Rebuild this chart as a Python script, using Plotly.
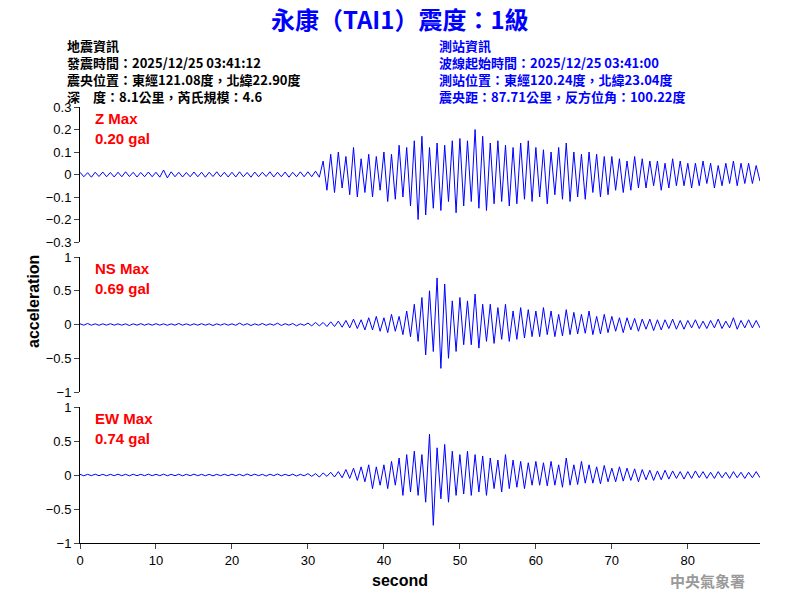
import plotly.graph_objects as go

# ── Waveform peaks, one value every 0.5 s (0 .. 89.5 s)
z_acc = [
    0.01, -0.01, 0.008, -0.012, 0.01, -0.009, 0.011, -0.01, 0.009, -0.011, 0.01, -0.01, 0.012, -0.009, 0.01, -0.011, 0.009, -0.01, 0.011, -0.01,
    0.01, -0.012, 0.02, -0.015, 0.012, -0.01, 0.01, -0.011, 0.009, -0.01, 0.011, -0.01, 0.01, -0.012, 0.01, -0.009, 0.012, -0.01, 0.01, -0.011,
    0.01, -0.011, 0.012, -0.01, 0.009, -0.012, 0.011, -0.01, 0.01, -0.009, 0.012, -0.011, 0.01, -0.01, 0.011, -0.012, 0.01, -0.01, 0.012, -0.01,
    0.012, -0.01, 0.015, -0.012, 0.06, -0.07, 0.09, -0.08, 0.1, -0.06, 0.08, -0.09, 0.12, -0.1, 0.07, -0.08, 0.09, -0.1, 0.08, -0.07,
    0.1, -0.12, 0.09, -0.11, 0.13, -0.1, 0.12, -0.14, 0.15, -0.2, 0.17, -0.18, 0.12, -0.15, 0.14, -0.16, 0.13, -0.12, 0.15, -0.17,
    0.16, -0.14, 0.15, -0.12, 0.2, -0.15, 0.17, -0.16, 0.14, -0.13, 0.15, -0.12, 0.13, -0.14, 0.12, -0.13, 0.14, -0.11, 0.15, -0.12,
    0.12, -0.1, 0.11, -0.13, 0.1, -0.09, 0.12, -0.11, 0.14, -0.12, 0.1, -0.1, 0.09, -0.11, 0.1, -0.08, 0.09, -0.1, 0.08, -0.09,
    0.08, -0.07, 0.07, -0.08, 0.06, -0.07, 0.08, -0.06, 0.07, -0.06, 0.06, -0.05, 0.06, -0.07, 0.05, -0.06, 0.07, -0.05, 0.06, -0.05,
    0.05, -0.06, 0.05, -0.05, 0.06, -0.04, 0.05, -0.06, 0.04, -0.05, 0.05, -0.04, 0.06, -0.05, 0.05, -0.04, 0.05, -0.04, 0.04, -0.03,
]
ns_acc = [
    0.01, -0.01, 0.015, -0.01, 0.01, -0.012, 0.01, -0.01, 0.012, -0.01, 0.01, -0.01, 0.01, -0.015, 0.01, -0.01, 0.012, -0.01, 0.01, -0.01,
    0.012, -0.01, 0.01, -0.012, 0.01, -0.01, 0.015, -0.01, 0.01, -0.012, 0.01, -0.01, 0.012, -0.01, 0.01, -0.015, 0.01, -0.01, 0.012, -0.01,
    0.01, -0.012, 0.02, -0.01, 0.012, -0.015, 0.01, -0.01, 0.015, -0.012, 0.01, -0.01, 0.02, -0.015, 0.012, -0.01, 0.015, -0.02, 0.01, -0.012,
    0.02, -0.02, 0.03, -0.02, 0.03, -0.03, 0.04, -0.03, 0.05, -0.04, 0.06, -0.05, 0.08, -0.06, 0.07, -0.08, 0.1, -0.08, 0.12, -0.1,
    0.1, -0.12, 0.15, -0.1, 0.12, -0.15, 0.2, -0.18, 0.3, -0.25, 0.4, -0.45, 0.5, -0.4, 0.69, -0.65, 0.6, -0.5, 0.35, -0.4,
    0.4, -0.3, 0.35, -0.3, 0.45, -0.35, 0.3, -0.25, 0.3, -0.28, 0.25, -0.22, 0.3, -0.25, 0.2, -0.22, 0.25, -0.2, 0.22, -0.18,
    0.2, -0.18, 0.25, -0.15, 0.2, -0.18, 0.15, -0.17, 0.22, -0.15, 0.18, -0.14, 0.15, -0.13, 0.2, -0.15, 0.12, -0.14, 0.15, -0.12,
    0.12, -0.1, 0.1, -0.12, 0.1, -0.08, 0.09, -0.1, 0.08, -0.07, 0.08, -0.09, 0.07, -0.08, 0.07, -0.06, 0.08, -0.07, 0.06, -0.07,
    0.06, -0.05, 0.07, -0.06, 0.05, -0.06, 0.06, -0.05, 0.08, -0.06, 0.05, -0.05, 0.1, -0.07, 0.06, -0.05, 0.07, -0.05, 0.06, -0.05,
]
ew_acc = [
    0.01, -0.012, 0.01, -0.01, 0.012, -0.01, 0.01, -0.011, 0.01, -0.01, 0.012, -0.01, 0.01, -0.012, 0.011, -0.01, 0.01, -0.01, 0.012, -0.01,
    0.01, -0.01, 0.012, -0.011, 0.01, -0.01, 0.011, -0.012, 0.01, -0.01, 0.012, -0.01, 0.01, -0.011, 0.01, -0.012, 0.01, -0.01, 0.011, -0.01,
    0.012, -0.01, 0.01, -0.012, 0.015, -0.01, 0.012, -0.01, 0.01, -0.015, 0.012, -0.01, 0.015, -0.012, 0.01, -0.01, 0.012, -0.015, 0.01, -0.012,
    0.02, -0.02, 0.02, -0.03, 0.03, -0.02, 0.04, -0.03, 0.05, -0.04, 0.08, -0.05, 0.1, -0.08, 0.12, -0.1, 0.15, -0.2, 0.12, -0.15,
    0.15, -0.2, 0.2, -0.15, 0.25, -0.3, 0.3, -0.25, 0.35, -0.3, 0.3, -0.4, 0.6, -0.74, 0.4, -0.35, 0.45, -0.4, 0.35, -0.3,
    0.3, -0.28, 0.35, -0.3, 0.3, -0.25, 0.28, -0.3, 0.25, -0.2, 0.22, -0.25, 0.3, -0.2, 0.22, -0.18, 0.2, -0.2, 0.18, -0.15,
    0.2, -0.15, 0.18, -0.16, 0.2, -0.15, 0.15, -0.18, 0.25, -0.15, 0.15, -0.14, 0.2, -0.12, 0.15, -0.12, 0.12, -0.13, 0.14, -0.1,
    0.1, -0.1, 0.12, -0.09, 0.1, -0.08, 0.09, -0.1, 0.08, -0.07, 0.07, -0.08, 0.06, -0.07, 0.07, -0.06, 0.06, -0.05, 0.05, -0.06,
    0.05, -0.05, 0.06, -0.04, 0.05, -0.05, 0.04, -0.05, 0.05, -0.04, 0.04, -0.05, 0.05, -0.04, 0.04, -0.05, 0.04, -0.04, 0.05, -0.04,
]
sample_step = 0.5
seconds = [i * sample_step for i in range(len(z_acc))]

components = ["Z", "NS", "EW"]
max_gal = ["0.20", "0.69", "0.74"]
y_ranges = [[-0.3, 0.3], [-1, 1], [-1, 1]]
y_dticks = [0.1, 0.5, 0.5]

title_text = "永康（TAI1）震度：1級"
quake_info = ["地震資訊", "發震時間：2025/12/25 03:41:12",
              "震央位置：東經121.08度，北緯22.90度", "深　度：8.1公里，芮氏規模：4.6"]
station_info = ["測站資訊", "波線起始時間：2025/12/25 03:41:00",
                "測站位置：東經120.24度，北緯23.04度", "震央距：87.71公里，反方位角：100.22度"]

W, H = 800, 600
# panel pixel tops/bottoms
panels_px = [(107, 242), (257, 392), (407, 543)]


def note(px, py, text, yanchor="middle", **kw):
    # annotation placed by pixel position from the top-left corner
    kw.setdefault("xanchor", "left")
    fig.add_annotation(x=px / W, y=1 - py / H, xref="paper", yref="paper",
                       yanchor=yanchor, showarrow=False, text=text, **kw)


fig = go.Figure()
for i, acc in enumerate([z_acc, ns_acc, ew_acc]):
    n = "" if i == 0 else str(i + 1)
    fig.add_trace(go.Scatter(x=seconds, y=acc, mode="lines",
                             line=dict(color="#0000ff", width=1),
                             xaxis="x" + n, yaxis="y" + n, showlegend=False))
    top, bot = panels_px[i]
    dom = [1 - bot / H, 1 - top / H]
    fig.update_layout(**{
        "xaxis" + n: dict(domain=[80 / W, 760 / W], range=[0, 89.5], anchor="y" + n,
                          showgrid=False, zeroline=False, dtick=10, automargin=False,
                          showticklabels=(i == 2), showline=(i == 2),
                          ticks="outside" if i == 2 else "", linecolor="black",
                          tickfont=dict(size=13),
                          matches="x" if i else None),
        "yaxis" + n: dict(domain=dom, range=y_ranges[i], dtick=y_dticks[i], anchor="x" + n,
                          showgrid=False, zeroline=False, showline=True, linecolor="black",
                          ticks="outside", ticklen=5, automargin=False,
                          tickfont=dict(size=13)),
    })
    note(93, top + 11, f"<b>{components[i]} Max</b>", font=dict(size=15, color="#ff0000"))
    note(93, top + 31, f"<b>{max_gal[i]} gal</b>", font=dict(size=15, color="#ff0000"))

cjk = "Noto Sans CJK TC"
note(400, 18, f"<b>{title_text}</b>", xanchor="center",
     font=dict(family=cjk, size=24, color="#0000ff"))
# header blocks, one multi-line text each
note(65, 34, "<br>".join(f"<b>{s}</b>" for s in quake_info), yanchor="top", align="left",
     font=dict(family=cjk, size=13, color="black"))
note(437, 34, "<br>".join(f"<b>{s}</b>" for s in station_info), yanchor="top", align="left",
     font=dict(family=cjk, size=13, color="#0000ff"))

note(33, 302, "<b>acceleration</b>", xanchor="center", textangle=-90, font=dict(size=16))
note(400, 580, "<b>second</b>", xanchor="center", font=dict(size=16))
note(747, 580, "<b>中央氣象署</b>", xanchor="right",
     font=dict(family=cjk, size=15, color="#999999"))

fig.update_layout(width=W, height=H, margin=dict(l=0, r=0, t=0, b=0),
                  paper_bgcolor="white", plot_bgcolor="white",
                  font=dict(family="Arial, Liberation Sans", size=13, color="black"))
fig.write_html("out.html", config={"displayModeBar": False},
               post_script="document.body.style.margin='0';")
